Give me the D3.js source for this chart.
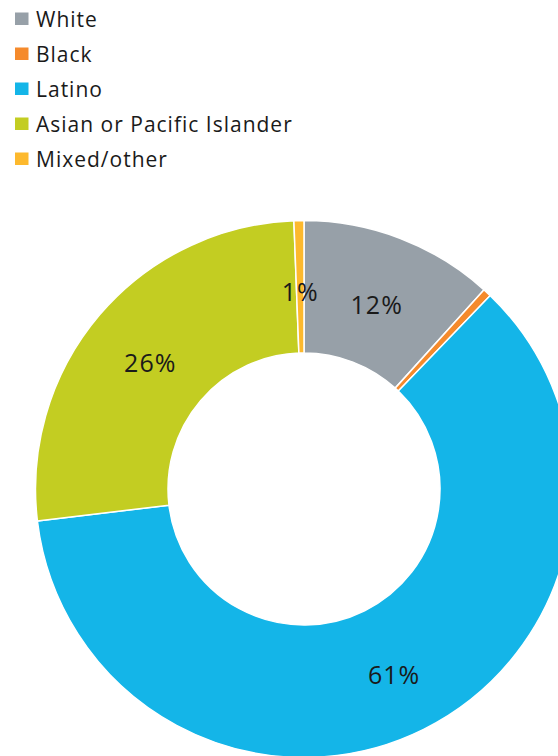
<!DOCTYPE html>
<html>
<head>
<meta charset="utf-8">
<script src="https://cdn.jsdelivr.net/npm/d3@7"></script>
<style>
  html, body { margin: 0; padding: 0; background: #ffffff; }
  svg { display: block; }
</style>
</head>
<body>
<svg id="chart" width="558" height="756"></svg>
<script>
// Share of students by race/ethnicity (percent)
const groups = ["White", "Black", "Latino", "Asian or Pacific Islander", "Mixed/other"];
const shares = [11.7, 0.5, 60.9, 26.3, 0.6];
const colors = ["#97a0a8", "#f58a2c", "#14b5e8", "#c3cd22", "#fdb92d"];
// slices that carry a percentage label
const labelled = [true, false, true, true, true];

const data = groups.map((g, i) => ({ group: g, value: shares[i], color: colors[i], label: labelled[i] }));

const svg = d3.select("#chart");
const cx = 304, cy = 489;
const outerR = 268.5, innerR = 136;

// Legend
const legend = svg.append("g").attr("class", "legend");
const rowStep = 35, firstBaseline = 27;
const rows = legend.selectAll("g.row")
  .data(data)
  .join("g")
  .attr("class", "row")
  .attr("transform", (d, i) => `translate(0,${firstBaseline + i * rowStep})`);
rows.append("rect")
  .attr("x", 15).attr("y", -14.5)
  .attr("width", 13.5).attr("height", 12.5)
  .attr("fill", d => d.color);
rows.append("text")
  .attr("x", 36).attr("y", 0)
  .attr("font-family", "'Open Sans', 'Noto Sans', sans-serif")
  .attr("font-size", 21)
  .attr("letter-spacing", 1)
  .attr("fill", "#1a1a1a")
  .text(d => d.group);

// Donut
const pie = d3.pie().value(d => d.value).sort(null);
const arc = d3.arc().innerRadius(innerR).outerRadius(outerR);
const labelArc = d3.arc().innerRadius((innerR + outerR) / 2).outerRadius((innerR + outerR) / 2);

const donut = svg.append("g").attr("transform", `translate(${cx},${cy})`);
const arcs = pie(data);

donut.selectAll("path")
  .data(arcs)
  .join("path")
  .attr("d", arc)
  .attr("fill", d => d.data.color)
  .attr("stroke", "#ffffff")
  .attr("stroke-width", 1.5)
  .attr("stroke-linejoin", "round");

donut.selectAll("text")
  .data(arcs.filter(d => d.data.label))
  .join("text")
  .attr("transform", d => `translate(${labelArc.centroid(d)})`)
  .attr("dy", 14)
  .attr("text-anchor", "middle")
  .attr("font-family", "'Open Sans', 'Noto Sans', sans-serif")
  .attr("font-size", 25)
  .attr("letter-spacing", 1)
  .attr("fill", "#1a1a1a")
  .text(d => Math.round(d.data.value) + "%");
</script>
</body>
</html>
